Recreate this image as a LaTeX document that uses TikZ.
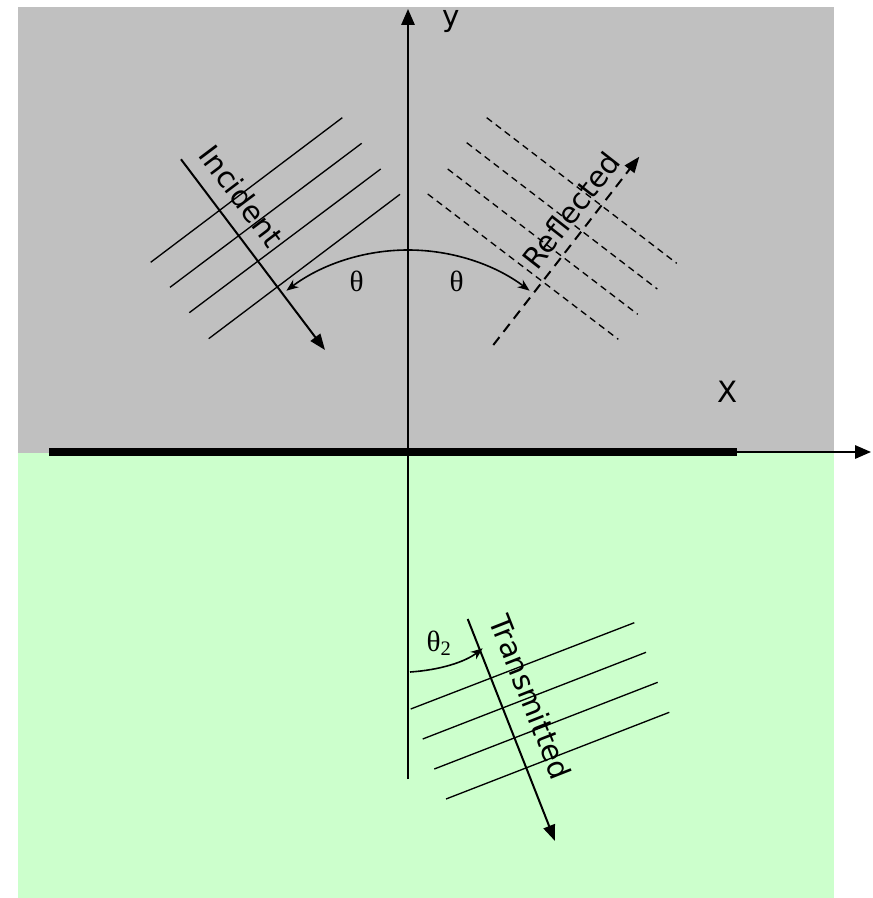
\documentclass[tikz,border=0pt]{standalone}
\usepackage{fontspec}
\setsansfont{DejaVu Sans}
\newfontfamily\greekfont{Liberation Serif}
\usetikzlibrary{arrows.meta}

\tikzset{every picture/.style={line width=0.75pt}}
\tikzset{
  wave/.style={line width=1pt},
  dashwave/.style={line width=1pt,dash pattern=on 5pt off 3.5pt},
  ray/.style={line width=1.5pt,-{Triangle[length=12pt,width=9pt]}},
  axis/.style={line width=1.5pt,-{Triangle[length=12pt,width=10pt]}},
  anglearrow/.style={line width=1.2pt,-{Stealth[length=9pt,width=7pt]}},
  wavelabel/.style={font=\sffamily\fontsize{22}{26}\selectfont,inner sep=0.75pt},
  anglelabel/.style={font=\greekfont\fontsize{22}{26}\selectfont,inner sep=0.75pt}
}

\begin{document}
\begin{tikzpicture}[x=0.75pt,y=0.75pt,yscale=-1,xscale=1]
\useasboundingbox (0,0) rectangle (872,898);

%Shape: Rectangle [upper medium]
\fill [color={rgb, 255:red, 192; green, 192; blue, 192 }] (18,7) rectangle (834,453);
%Shape: Rectangle [lower medium]
\fill [color={rgb, 255:red, 204; green, 255; blue, 204 }] (18,453) rectangle (834,898);

\coordinate (O) at (408,452);
\coordinate (ytop) at (408,9);
\coordinate (ybot) at (408,779);
\coordinate (xleft) at (49,452);
\coordinate (xmid) at (737,452);
\coordinate (xend) at (871,452);

%Straight Lines [axes]
\draw [axis] (ybot) -- (ytop);
\draw [axis] (xleft) -- (xend);
\draw [line width=5.5pt] (xleft) -- (xmid);

%Straight Lines [incident fronts]
\draw [wave] (150.7,262.3) -- (342.3,117.7);
\draw [wave] (170,287.3) -- (361.7,143.3);
\draw [wave] (189.3,312.7) -- (380.7,169);
\draw [wave] (208.7,338.7) -- (400,194.3);
%Straight Lines [reflected fronts]
\draw [dashwave] (486.7,117.7) -- (676.7,263.3);
\draw [dashwave] (466.7,142.7) -- (657.3,289);
\draw [dashwave] (447.7,169) -- (637.7,314.3);
\draw [dashwave] (427.7,194) -- (618.3,339.3);
%Straight Lines [transmitted fronts]
\draw [wave] (410.7,709) -- (634.3,622.7);
\draw [wave] (422.7,739) -- (646,652.3);
\draw [wave] (434.3,769) -- (657.7,682.3);
\draw [wave] (446,799) -- (669.3,712.3);

\coordinate (incA) at (181,159.3);
\coordinate (incB) at (325,350);
\coordinate (refA) at (493.3,345);
\coordinate (refB) at (639.3,156.7);
\coordinate (traA) at (467.7,619);
\coordinate (traB) at (555,841);

%Straight Lines [rays]
\draw [ray] (incA) -- (incB);
\draw [ray,dash pattern=on 7.5pt off 5pt] (refA) -- (refB);
\draw [ray] (traA) -- (traB);

%Shape: Arc [angles]
\coordinate (arctop) at (408,250);
\draw [anglearrow] (arctop) arc[start angle=-90,end angle=-127,radius=202];
\draw [anglearrow] (arctop) arc[start angle=-90,end angle=-53,radius=202];
\coordinate (t2A) at (410,672);
\coordinate (t2B) at (482.7,648.3);
\draw [anglearrow] (t2A) .. controls (440,670) and (465,662) .. (t2B);

% Text Node
\node [wavelabel] (ylab) at (450.7,21.7) {y};
% Text Node
\node [wavelabel] (xlab) at (727.7,391.7) {X};
% Text Node
\node [wavelabel,rotate=-53] (inclab) at (242,196) {Incident};
% Text Node
\node [wavelabel,rotate=52] (reflab) at (571,210) {Reflected};
% Text Node
\node [wavelabel,rotate=-68.5] (tralab) at (531,697) {Transmitted};
% Text Node
\node [anglelabel] (thL) at (356.7,281.7) {θ};
% Text Node
\node [anglelabel] (thR) at (456.7,281.7) {θ};
% Text Node
\node [anglelabel] (thT) at (439,643.3) {θ\textsubscript{2}};

\end{tikzpicture}
\end{document}
